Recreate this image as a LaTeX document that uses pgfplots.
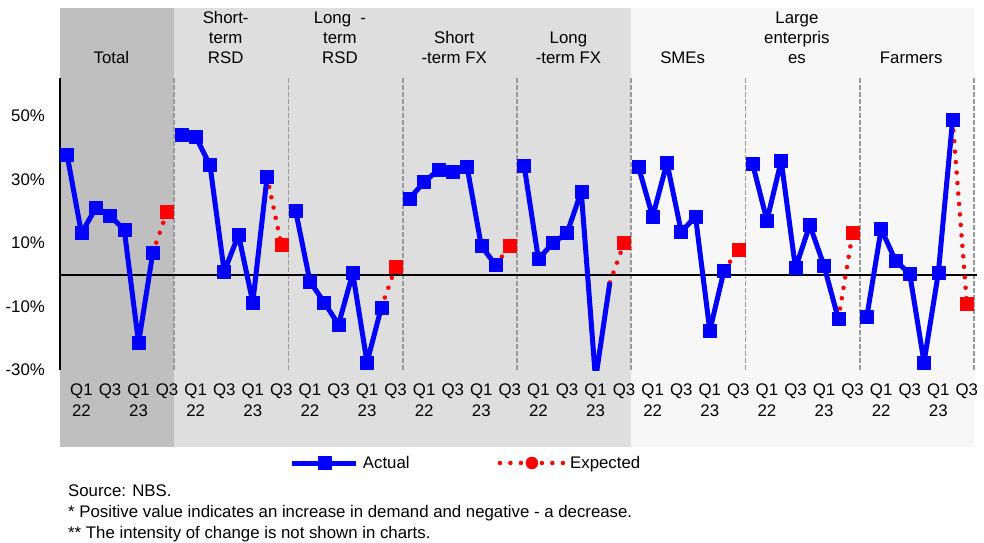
\documentclass[border=0pt]{standalone}
\usepackage{fontspec}
\setmainfont{Liberation Sans}
\usepackage{pgfplots}
\pgfplotsset{compat=1.18}
\definecolor{bgdark}{HTML}{BFBFBF}
\definecolor{bgmid}{HTML}{DEDEDE}
\definecolor{bglight}{HTML}{F7F7F7}
\definecolor{sepgray}{HTML}{9A9A9A}
\definecolor{actblue}{HTML}{0000FF}
\definecolor{expred}{HTML}{FF0000}
\pgfplotsset{
  actual/.style={color=actblue, line width=5pt, line join=round, mark=square*, mark size=6.5pt, mark options={line width=0.5pt, solid}},
  expline/.style={color=expred, line width=4.5pt, line cap=round, dash pattern=on 0pt off 10.5pt},
  expmark/.style={color=expred, only marks, mark=square*, mark size=6.5pt, mark options={line width=0.5pt, solid}},
}
\tikzset{panelsep/.style={sepgray, line width=1.8pt, dash pattern=on 5pt off 2pt}}
\newcommand{\ft}{\fontsize{16.8}{20}\selectfont}
\begin{document}
\begin{tikzpicture}
\begin{axis}[
  set layers,
  scale only axis,
  width=914pt, height=292pt,
  xmin=0, xmax=64, ymin=-30, ymax=62,
  clip mode=individual,
  axis line style={draw=none},
  major tick length=0pt,
  ytick={-30,-10,10,30,50},
  yticklabels={-30\%,-10\%,10\%,30\%,50\%},
  yticklabel style={font=\ft, inner sep=0pt, xshift=-15pt},
  xtick={1.5,3.5,...,63.5},
  xticklabels={{Q1\\22},Q3,{Q1\\23},Q3,{Q1\\22},Q3,{Q1\\23},Q3,{Q1\\22},Q3,{Q1\\23},Q3,{Q1\\22},Q3,{Q1\\23},Q3,{Q1\\22},Q3,{Q1\\23},Q3,{Q1\\22},Q3,{Q1\\23},Q3,{Q1\\22},Q3,{Q1\\23},Q3,{Q1\\22},Q3,{Q1\\23},Q3},
  xticklabel style={font=\fontsize{16.8}{21}\selectfont, align=center, inner sep=0pt, yshift=-14pt},
  legend image code/.code={\draw[mark repeat=2,mark phase=2,#1] plot coordinates {(0pt,0pt) (32pt,0pt) (64pt,0pt)};},
  legend columns=2,
  legend style={draw=none, fill=none, font=\ft, inner sep=0pt, outer sep=0pt,
    at={(rel axis cs:0.2516,-0.3185)}, anchor=west,
    /tikz/every odd column/.append style={column sep=2pt},
    /tikz/every even column/.append style={column sep=86pt}},
]
\begin{pgfonlayer}{axis background}
\fill[bgdark] ([yshift=-77pt]axis cs:0,-30) rectangle ([yshift=70pt]axis cs:8,62);
\fill[bgmid] ([yshift=-77pt]axis cs:8,-30) rectangle ([yshift=70pt]axis cs:40,62);
\fill[bglight] ([yshift=-77pt]axis cs:40,-30) rectangle ([yshift=70pt]axis cs:64,62);
\end{pgfonlayer}
\path (rel axis cs:0,0) ++(-60pt,-172pt) rectangle ++(984pt,542pt);

\addlegendimage{actual}
\addlegendentry{Actual}
\addlegendimage{color=expred, line width=4.5pt, line cap=round, dash pattern=on 0pt off 10.5pt, mark=*, mark size=6pt, mark options={solid, line width=0.5pt}}
\addlegendentry{Expected}

\draw[panelsep] (axis cs:8,-30) -- (axis cs:8,62);
\draw[panelsep] (axis cs:16,-30) -- (axis cs:16,62);
\draw[panelsep] (axis cs:24,-30) -- (axis cs:24,62);
\draw[panelsep] (axis cs:32,-30) -- (axis cs:32,62);
\draw[panelsep] (axis cs:40,-30) -- (axis cs:40,62);
\draw[panelsep] (axis cs:48,-30) -- (axis cs:48,62);
\draw[panelsep] (axis cs:56,-30) -- (axis cs:56,62);
\draw[panelsep] (axis cs:64,-30) -- (axis cs:64,62);
\draw[black, line width=1.6pt] (axis cs:0,-30) -- (axis cs:0,62);
\draw[black, line width=1.6pt] (axis cs:0,0) -- (axis cs:64.2,0);

% Expected (dotted)
\addplot[expline, forget plot] coordinates {(6.5,7.0) (7.5,19.9)};
\addplot[expline, forget plot] coordinates {(14.5,30.9) (15.5,9.4)};
\addplot[expline, forget plot] coordinates {(22.5,-10.3) (23.5,2.4)};
\addplot[expline, forget plot] coordinates {(30.5,3.1) (31.5,9.1)};
\addplot[expline, forget plot] coordinates {(38.5,-2.4) (39.5,10.0)};
\addplot[expline, forget plot] coordinates {(46.5,1.4) (47.5,7.9)};
\addplot[expline, forget plot] coordinates {(54.5,-13.9) (55.5,13.1)};
\addplot[expline, forget plot] coordinates {(62.5,48.7) (63.5,-9.1)};

% Actual
\addplot[actual, forget plot] coordinates {(0.5,37.7) (1.5,13.1) (2.5,21.0) (3.5,18.6) (4.5,14.2) (5.5,-21.5) (6.5,7.0)};
\addplot[actual, forget plot] coordinates {(8.5,44.0) (9.5,43.5) (10.5,34.6) (11.5,1.0) (12.5,12.6) (13.5,-8.7) (14.5,30.9)};
\addplot[actual, forget plot] coordinates {(16.5,20.2) (17.5,-2.1) (18.5,-8.7) (19.5,-15.7) (20.5,0.5) (21.5,-27.6) (22.5,-10.3)};
\addplot[actual, forget plot] coordinates {(24.5,24.1) (25.5,29.3) (26.5,33.0) (27.5,32.5) (28.5,34.1) (29.5,9.1) (30.5,3.1)};
\addplot[actual, forget plot, mark indices={1,2,3,4,5,7}] coordinates {(32.5,34.4) (33.5,4.9) (34.5,10.0) (35.5,13.1) (36.5,26.2) (37.5,-33.0) (38.5,-2.4)};
\addplot[actual, forget plot] coordinates {(40.5,34.1) (41.5,18.3) (42.5,35.3) (43.5,13.6) (44.5,18.3) (45.5,-17.6) (46.5,1.4)};
\addplot[actual, forget plot] coordinates {(48.5,34.9) (49.5,17.1) (50.5,35.9) (51.5,2.1) (52.5,15.7) (53.5,2.8) (54.5,-13.9)};
\addplot[actual, forget plot] coordinates {(56.5,-13.1) (57.5,14.4) (58.5,4.5) (59.5,0.3) (60.5,-27.6) (61.5,0.5) (62.5,48.7)};

% Expected markers
\addplot[expmark, forget plot] coordinates {(7.5,19.9) (15.5,9.4) (23.5,2.4) (31.5,9.1) (39.5,10.0) (47.5,7.9) (55.5,13.1) (63.5,-9.1)};

% Panel titles
\node[anchor=south, align=center, inner sep=0pt, font=\ft] at ([yshift=14pt]axis cs:3.6,62) {Total};
\node[anchor=south, align=center, inner sep=0pt, font=\ft] at ([yshift=14pt]axis cs:11.6,62) {Short-\\term\\RSD};
\node[anchor=south, align=center, inner sep=0pt, font=\ft] at ([yshift=14pt]axis cs:19.6,62) {Long\ \ -\\term\\RSD};
\node[anchor=south, align=center, inner sep=0pt, font=\ft] at ([yshift=14pt]axis cs:27.6,62) {Short\\-term FX};
\node[anchor=south, align=center, inner sep=0pt, font=\ft] at ([yshift=14pt]axis cs:35.6,62) {Long\\-term FX};
\node[anchor=south, align=center, inner sep=0pt, font=\ft] at ([yshift=14pt]axis cs:43.6,62) {SMEs};
\node[anchor=south, align=center, inner sep=0pt, font=\ft] at ([yshift=14pt]axis cs:51.6,62) {Large\\enterpris\\es};
\node[anchor=south, align=center, inner sep=0pt, font=\ft] at ([yshift=14pt]axis cs:59.6,62) {Farmers};

% Notes
\node[anchor=base west, inner sep=0pt, font=\ft] at ([xshift=8pt,yshift=-126pt]rel axis cs:0,0) {Source: NBS.};
\node[anchor=base west, inner sep=0pt, font=\ft] at ([xshift=8pt,yshift=-147pt]rel axis cs:0,0) {* Positive value indicates an increase in demand and negative - a decrease.};
\node[anchor=base west, inner sep=0pt, font=\ft] at ([xshift=8pt,yshift=-168pt]rel axis cs:0,0) {** The intensity of change is not shown in charts.};
\end{axis}
\end{tikzpicture}
\end{document}
